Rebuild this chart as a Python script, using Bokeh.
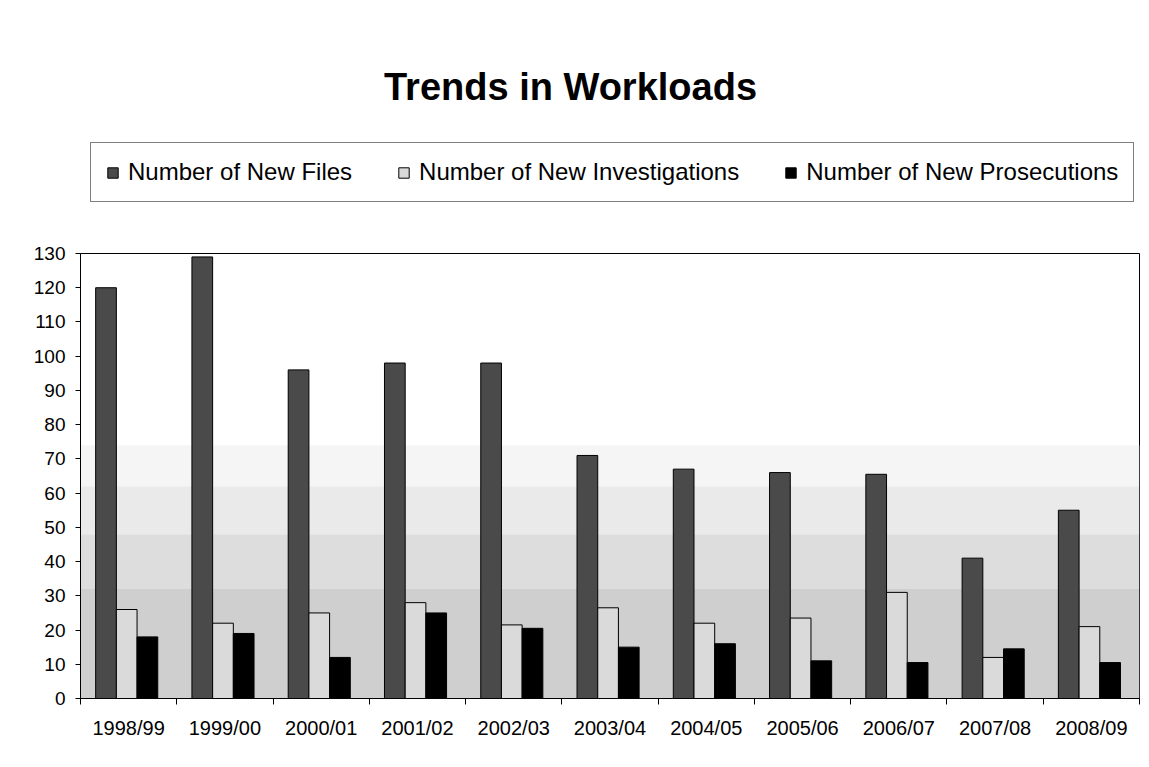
from bokeh.plotting import figure
from bokeh.layouts import column
from bokeh.models import Range1d, FixedTicker, Legend, LegendItem, Label, BoxAnnotation, ColumnDataSource
from bokeh.transform import dodge
from bokeh.embed import file_html
from bokeh.resources import INLINE

# ---- data ----
years = ["1998/99", "1999/00", "2000/01", "2001/02", "2002/03", "2003/04",
         "2004/05", "2005/06", "2006/07", "2007/08", "2008/09"]
new_files = [120, 129, 96, 98, 98, 71, 67, 66, 65.5, 41, 55]
new_investigations = [26, 22, 25, 28, 21.5, 26.5, 22, 23.5, 31, 12, 21]
new_prosecutions = [18, 19, 12, 25, 20.5, 15, 16, 11, 10.5, 14.5, 10.5]
y_ticks = list(range(0, 131, 10))
series_names = ["Number of New Files", "Number of New Investigations", "Number of New Prosecutions"]
title_text = "Trends in Workloads"

FONT = "Liberation Sans"
COLORS = ["#4a4a4a", "#dadada", "black"]
OFFSETS = [-0.235, -0.02, 0.195]
FIELDS = ["files", "inv", "pros"]
W = 0.215

idx = list(range(len(years)))
src = ColumnDataSource(dict(idx=idx, files=new_files, inv=new_investigations, pros=new_prosecutions))

FRAME_L, FRAME_R = 80, 1139      # page x of plot frame
HEAD_H = 228                      # header height (title + legend)
TOP_PAD = 253 - HEAD_H            # space above main frame

# ---------------- header: title + legend ----------------
head = figure(width=1149, height=HEAD_H, output_backend="svg", toolbar_location=None,
              x_range=Range1d(FRAME_L, FRAME_R), y_range=Range1d(HEAD_H, 0),
              x_axis_location=None, y_axis_location=None,
              min_border_left=FRAME_L, min_border_right=1149 - FRAME_R, min_border_top=0, min_border_bottom=0)
head.outline_line_color = None
head.xgrid.visible = False
head.ygrid.visible = False
head.background_fill_color = "white"
head.border_fill_color = "white"
head.extra_y_ranges = {"off": Range1d(1000, 2000)}

head.add_layout(Label(x=570, y=86, text=title_text, text_font=FONT, text_font_size="38px",
                      text_font_style="bold", text_align="center", text_baseline="alphabetic",
                      text_color="black"))

key_renderers = []
for f, c, o in zip(FIELDS, COLORS, OFFSETS):
    key_renderers.append(head.vbar(x=dodge("idx", o), top=f, width=W, source=src, y_range_name="off",
                                   fill_color=c, line_color="black", line_width=1))

legend = Legend(items=[LegendItem(label=n, renderers=[r]) for n, r in zip(series_names, key_renderers)],
                location=(90 - FRAME_L, HEAD_H - 202), orientation="horizontal")
legend.label_text_font = FONT
legend.label_text_font_size = "24px"
legend.label_text_color = "black"
legend.label_height = 24
legend.glyph_width = 13
legend.glyph_height = 13
legend.label_standoff = 9
legend.spacing = 45
legend.padding = 15
legend.margin = 0
legend.border_line_color = "black"
legend.border_line_width = 1
legend.background_fill_color = "white"
legend.background_fill_alpha = 1
head.add_layout(legend, "center")

# ---------------- main chart ----------------
p = figure(width=1149, height=765 - HEAD_H, output_backend="svg", toolbar_location=None,
           x_range=Range1d(-0.5, len(years) - 0.5), y_range=Range1d(0, 130),
           min_border_left=FRAME_L, min_border_right=1149 - FRAME_R,
           min_border_top=TOP_PAD, min_border_bottom=67)
p.background_fill_color = "white"
p.border_fill_color = "white"
p.outline_line_color = "black"
p.outline_line_width = 1
p.xgrid.visible = False
p.ygrid.visible = False

# light gradient-like backdrop
for b, t, c in [(0, 32, "#cfcfcf"), (32, 48, "#dddddd"), (48, 62, "#eaeaea"), (62, 74, "#f5f5f5")]:
    p.add_layout(BoxAnnotation(bottom=b, top=t, fill_color=c, fill_alpha=1, line_color=None, level="underlay"))

for f, c, o in zip(FIELDS, COLORS, OFFSETS):
    p.vbar(x=dodge("idx", o), top=f, width=W, source=src,
           fill_color=c, line_color="black", line_width=1)

# y axis
p.yaxis.ticker = FixedTicker(ticks=y_ticks, minor_ticks=[])
p.yaxis.major_label_text_font = FONT
p.yaxis.major_label_text_font_size = "19px"
p.yaxis.major_label_text_color = "black"
p.yaxis.major_tick_out = 5
p.yaxis.major_tick_in = 0
p.yaxis.minor_tick_line_color = None
p.yaxis.axis_line_color = "black"
p.yaxis.major_tick_line_color = "black"
p.yaxis.major_label_standoff = 10

# x axis: labels at centres, small ticks at category boundaries
p.xaxis.ticker = FixedTicker(ticks=idx, minor_ticks=[i - 0.5 for i in range(len(years) + 1)])
p.xaxis.major_label_overrides = {i: years[i] for i in idx}
p.xaxis.major_tick_line_color = None
p.xaxis.major_tick_out = 0
p.xaxis.major_tick_in = 0
p.xaxis.minor_tick_line_color = "black"
p.xaxis.minor_tick_out = 6
p.xaxis.minor_tick_in = 0
p.xaxis.axis_line_color = "black"
p.xaxis.major_label_text_font = FONT
p.xaxis.major_label_text_font_size = "20px"
p.xaxis.major_label_text_color = "black"
p.xaxis.major_label_standoff = 12

layout = column(head, p, spacing=0)
open("out.html", "w").write(file_html(layout, INLINE))
